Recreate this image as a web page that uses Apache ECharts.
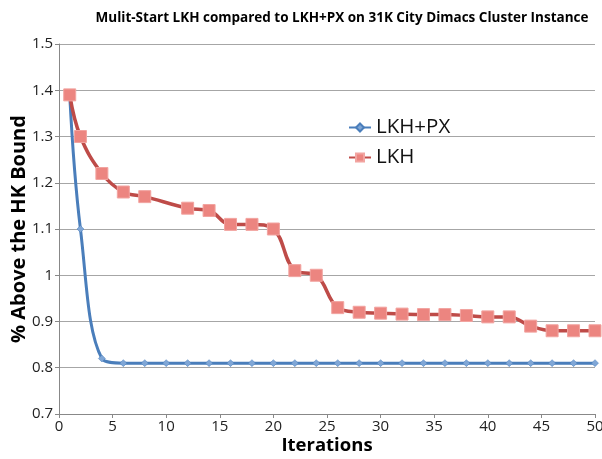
<!DOCTYPE html>
<html>
<head>
<meta charset="utf-8">
<script src="https://cdn.jsdelivr.net/npm/echarts@6/dist/echarts.min.js"></script>
<style>
  html, body { margin: 0; padding: 0; background: #fff; }
  #chart { width: 602px; height: 459px; }
</style>
</head>
<body>
<div id="chart"></div>
<script>
// Iteration counts sampled for each run
const pxIterations = [1, 2, 4, 6, 8, 10, 12, 14, 16, 18, 20, 22, 24, 26, 28, 30, 32, 34, 36, 38, 40, 42, 44, 46, 48, 50];
const pxValues = [1.39, 1.10, 0.82, 0.81, 0.81, 0.81, 0.81, 0.81, 0.81, 0.81, 0.81, 0.81, 0.81, 0.81, 0.81, 0.81, 0.81, 0.81, 0.81, 0.81, 0.81, 0.81, 0.81, 0.81, 0.81, 0.81];

const lkhIterations = [1, 2, 4, 6, 8, 12, 14, 16, 18, 20, 22, 24, 26, 28, 30, 32, 34, 36, 38, 40, 42, 44, 46, 48, 50];
const lkhValues = [1.39, 1.30, 1.22, 1.18, 1.17, 1.145, 1.14, 1.11, 1.11, 1.10, 1.01, 1.00, 0.93, 0.92, 0.918, 0.916, 0.915, 0.915, 0.913, 0.91, 0.91, 0.89, 0.88, 0.88, 0.88];

const xTicks = { min: 0, max: 50, interval: 5 };
const yTicks = { min: 0.7, max: 1.5, interval: 0.1 };

const pair = (xs, ys) => xs.map((x, i) => [x, ys[i]]);

const chart = echarts.init(document.getElementById('chart'));
chart.setOption({
  animation: false,
  title: {
    text: 'Mulit-Start LKH compared to LKH+PX on 31K City Dimacs Cluster Instance',
    left: 337,
    textAlign: 'center',
    top: 6,
    textStyle: { fontFamily: 'Open Sans', fontWeight: 'bold', fontSize: 13.5, color: '#000' }
  },
  legend: {
    orient: 'vertical',
    left: 343,
    top: 112,
    itemGap: 9,
    itemWidth: 22,
    itemHeight: 10,
    textStyle: { fontFamily: 'Open Sans', fontSize: 20.5, color: '#111' },
    data: ['LKH+PX', 'LKH']
  },
  grid: { left: 59, right: 7, top: 44, bottom: 45, outerBoundsMode: 'none' },
  xAxis: {
    type: 'value',
    min: xTicks.min, max: xTicks.max, interval: xTicks.interval,
    name: 'Iterations',
    nameLocation: 'middle',
    nameGap: 22,
    nameMoveOverlap: false,
    nameTextStyle: { fontFamily: 'Open Sans', fontWeight: 'bold', fontSize: 18.5, color: '#000' },
    axisLine: { lineStyle: { color: '#888', width: 1 } },
    axisTick: { show: true, length: 4, lineStyle: { color: '#888' } },
    axisLabel: { fontFamily: 'Open Sans', fontSize: 15, color: '#222', margin: 5 },
    splitLine: { show: false }
  },
  yAxis: {
    type: 'value',
    min: yTicks.min, max: yTicks.max, interval: yTicks.interval,
    name: '% Above the HK Bound',
    nameLocation: 'middle',
    nameGap: 30,
    nameMoveOverlap: false,
    nameTextStyle: { fontFamily: 'Open Sans', fontWeight: 'bold', fontSize: 20, color: '#000' },
    axisLine: { show: true, lineStyle: { color: '#888', width: 1 } },
    axisTick: { show: true, length: 4, lineStyle: { color: '#888' } },
    axisLabel: {
      fontFamily: 'Open Sans', fontSize: 15, color: '#222', margin: 6,
      formatter: v => String(Math.round(v * 10) / 10)
    },
    splitLine: { show: true, lineStyle: { color: '#a6a6a6', width: 1 } }
  },
  series: [
    {
      name: 'LKH+PX',
      type: 'line',
      smooth: 0.4,
      data: pair(pxIterations, pxValues),
      symbol: 'diamond',
      symbolSize: 7,
      lineStyle: { color: '#4a7ebb', width: 3 },
      itemStyle: { color: '#7fa6d6', borderColor: '#4a7ebb', borderWidth: 0.5 },
      z: 3
    },
    {
      name: 'LKH',
      type: 'line',
      smooth: 0.4,
      data: pair(lkhIterations, lkhValues),
      symbol: 'rect',
      symbolSize: 12,
      lineStyle: { color: '#be4b48', width: 3.5 },
      itemStyle: { color: '#ec8580', borderColor: '#f2a4a0', borderWidth: 1 },
      z: 4
    }
  ]
});
</script>
</body>
</html>
